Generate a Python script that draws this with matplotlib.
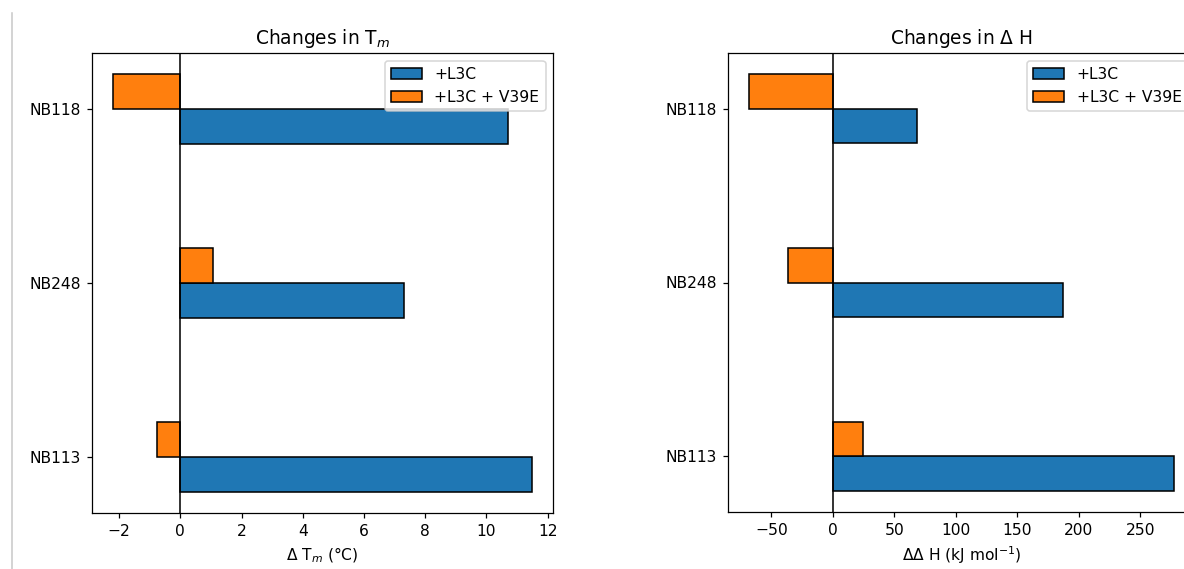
import matplotlib
matplotlib.use("Agg")
import matplotlib.pyplot as plt
from matplotlib.lines import Line2D
import numpy as np

# Nanobody variants (bottom to top) and measured changes
variants = ["NB113", "NB248", "NB118"]
series_names = ["+L3C", "+L3C + V39E"]
dtm_l3c = [11.5, 7.3, 10.7]
dtm_l3c_v39e = [-0.75, 1.07, -2.21]
ddh_l3c = [277.5, 187.0, 68.5]
ddh_l3c_v39e = [24.5, -36.5, -68.0]

DPI = 112
W, H = 1184, 569
fig = plt.figure(figsize=(W / DPI, H / DPI), dpi=DPI)


def frac(left, top, right, bottom):
    return [left / W, 1 - bottom / H, (right - left) / W, (bottom - top) / H]


ax1 = fig.add_axes(frac(91.7, 53, 553.3, 513))
ax2 = fig.add_axes(frac(728, 53, 1195.5, 512))

y = np.arange(len(variants))
bar_h = 0.2
colors = ["#1f77b4", "#ff7f0e"]


def draw(ax, a, b, title, xlabel):
    ax.barh(y - bar_h / 2, a, height=bar_h, color=colors[0],
            edgecolor="black", label=series_names[0])
    ax.barh(y + bar_h / 2, b, height=bar_h, color=colors[1],
            edgecolor="black", label=series_names[1])
    ax.axvline(0, color="black", linewidth=1)
    ax.set_yticks(y)
    ax.set_yticklabels(variants)
    ax.set_title(title)
    ax.set_xlabel(xlabel)
    ax.legend(loc="upper right")


draw(ax1, dtm_l3c, dtm_l3c_v39e, r"Changes in T$_m$", r"$\Delta$ T$_m$ (°C)")
draw(ax2, ddh_l3c, ddh_l3c_v39e, r"Changes in $\Delta$ H",
     r"$\Delta\Delta$ H (kJ mol$^{-1}$)")

# thin page rule along the left edge
fig.add_artist(Line2D([11.5 / W, 11.5 / W], [0, 1 - 13 / H],
                      transform=fig.transFigure, color="#c8c8c8", linewidth=1))

fig.savefig("out.png", dpi=DPI)
